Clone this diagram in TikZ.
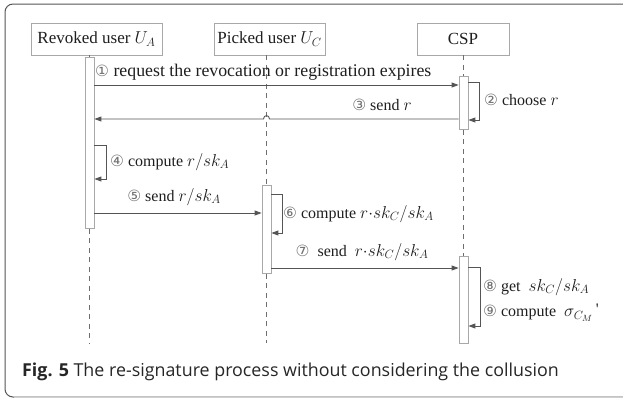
\documentclass[tikz,border=0pt]{standalone}
\usepackage{fontspec}
\setmainfont{Liberation Serif}
\newfontfamily\circfont{DejaVu Sans}
\newfontfamily\capfont{Open Sans}
\usetikzlibrary{arrows.meta}
\definecolor{linegray}{HTML}{555555}
\definecolor{boxgray}{HTML}{A8A8A8}
\definecolor{circgray}{HTML}{707070}
\definecolor{textdark}{HTML}{1E1E1E}
\definecolor{framelight}{HTML}{D0D0D0}
\newcommand{\cn}[1]{{\circfont\fontsize{15.5}{17}\selectfont\color{circgray}#1}}
\newcommand{\mth}[1]{{\fontsize{18.5}{20}\selectfont$#1$}}
\begin{document}
\begin{tikzpicture}[x=1pt,y=-1pt,
 actor/.style={draw=boxgray, line width=0.8pt, fill=white, inner sep=0pt,
   font=\fontsize{17}{19}\selectfont, text=textdark},
 bar/.style={draw=boxgray, line width=0.8pt, fill=white, minimum width=9pt,
   inner sep=0pt, anchor=north},
 life/.style={draw=linegray!85, line width=0.7pt, dash pattern=on 5pt off 4.5pt},
 msg/.style={draw=linegray, line width=0.9pt, -{Triangle[length=7pt,width=5pt]}},
 lab/.style={font=\fontsize{16}{18}\selectfont, text=textdark, inner sep=0pt},
 capstyle/.style={font=\capfont\fontsize{17.85}{19}\selectfont, text=black!85, inner sep=0pt}
]
\useasboundingbox (0,0) rectangle (623,399);
% frame
\draw[linegray, line width=1pt, rounded corners=8pt] (640,4) -- (5,4) -- (5,397) -- (640,397);
\draw[framelight, line width=1pt] (14,397) -- (640,397);

% actors
\node[actor, minimum width=131pt, minimum height=32pt] (boxA) at (96.5,39) {Revoked user $U_A$};
\node[actor, minimum width=111pt, minimum height=32pt] (boxB) at (269.5,39) {Picked user $U_C$};
\node[actor, minimum width=92pt, minimum height=32pt] (boxC) at (463,39) {CSP};

% activation bars
\node[bar, minimum height=171pt] (barA) at (89.5,57) {};
\node[bar, minimum height=88pt] (barB) at (266.5,185) {};
\node[bar, minimum height=53pt] (barC1) at (463.5,76) {};
\node[bar, minimum height=87pt] (barC2) at (463.5,256) {};

% lifeline ends
\coordinate (endA) at (89.5,343);
\coordinate (endB) at (266.5,343);

% lifelines
\draw[life] (barA.north |- boxA.south) -- (barA.north);
\draw[life] (barA.south) -- (endA);
\draw[life] (barB.north |- boxB.south) -- (barB.north);
\draw[life] (barB.south) -- (endB);
\draw[life] (barC1.north |- boxC.south) -- (barC1.north);
\draw[life] (barC1.south) -- (barC2.north);

% message levels
\coordinate (y1) at (0,85);
\coordinate (y2a) at (0,82);
\coordinate (y2b) at (0,120);
\coordinate (y3) at (0,119);
\coordinate (y4a) at (0,145);
\coordinate (y4b) at (0,179);
\coordinate (y5) at (0,213);
\coordinate (y6a) at (0,194);
\coordinate (y6b) at (0,233);
\coordinate (y7) at (0,268);
\coordinate (y8a) at (0,267);
\coordinate (y8b) at (0,326);
\coordinate (hopR) at (269.5,119);
\coordinate (hopL) at (263.5,119);

% messages
\draw[msg] (barA.east |- y1) -- (barC1.west |- y1);
\draw[msg] (barC1.east |- y2a) -- ++(11,0) |- (barC1.east |- y2b);
\draw[msg] (barC1.west |- y3) -- (hopR) .. controls (269.5,114.5) and (263.5,114.5) .. (hopL) -- (barA.east |- y3);
\draw[msg] (barA.east |- y4a) -- ++(12,0) |- (barA.east |- y4b);
\draw[msg] (barA.east |- y5) -- (barB.west |- y5);
\draw[msg] (barB.east |- y6a) -- ++(11,0) |- (barB.east |- y6b);
\draw[msg] (barB.east |- y7) -- (barC2.west |- y7);
\draw[msg] (barC2.east |- y8a) -- ++(12,0) |- (barC2.east |- y8b);

% labels
\node[lab, font=\fontsize{17.8}{19}\selectfont, anchor=west] (l1) at (95,72) {\cn{①} request the revocation or registration expires};
\node[lab, anchor=west] (l2) at (484,100) {\cn{②} choose $r$};
\node[lab] (l3) at (382,105) {\cn{③} send $r$};
\node[lab, anchor=west] (l4) at (110,162) {\cn{④} compute \mth{r/sk_A}};
\node[lab] (l5) at (174,197) {\cn{⑤} send \mth{r/sk_A}};
\node[lab, anchor=west] (l6) at (283,214) {\cn{⑥} compute \mth{r{\cdot}sk_C/sk_A}};
\node[lab] (l7) at (362,252) {\cn{⑦}\ \ send\ \ \mth{r{\cdot}sk_C/sk_A}};
\node[lab, anchor=west] (l8) at (483,287) {\cn{⑧} get\ \ \mth{sk_C/sk_A}};
\node[lab, anchor=west] (l9) at (483,313) {\cn{⑨} compute\ \ \mth{\sigma_{C_M}}\,\raisebox{2pt}{\textquotesingle}};

% caption
\node[capstyle, anchor=base west] (cap) at (22,376) {\textbf{Fig. 5} The re-signature process without considering the collusion};
\end{tikzpicture}
\end{document}
